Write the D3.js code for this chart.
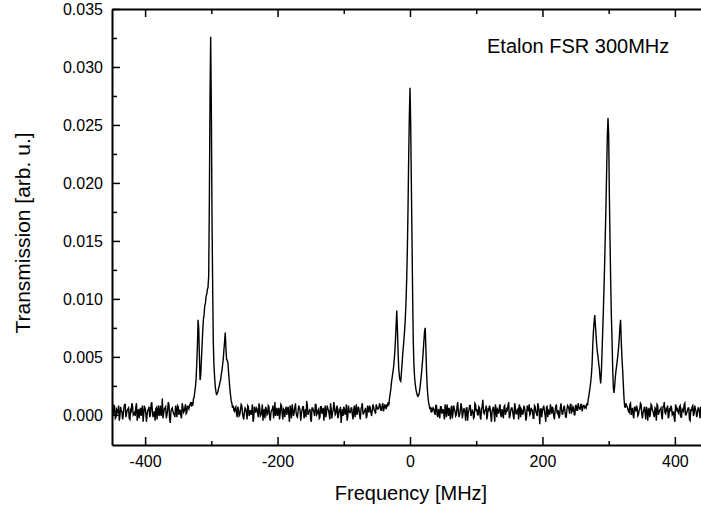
<!DOCTYPE html>
<html><head><meta charset="utf-8">
<script src="https://cdn.jsdelivr.net/npm/d3@7"></script>
<style>body{margin:0;background:#fff}svg{display:block}</style>
</head><body>
<svg id="chart" width="701" height="514"></svg>
<script>
// Transmission values are given in units of 1e-4 (arb. u.)
// Baseline noise, even-MHz samples (every 2 MHz from the listed start)
const baseStart = [-450, -264, 36, 328];
const base1 = [5, 0, 7, -2, 4, 8, -1, 3, -4, 6,
  9, 1, 5, -3, 4, 10, 0, 2, 7, -5,
  5, 3, -1, 8, 1, 6, -6, 4, 7, 0,
  11, -2, 3, 5, -4, 8, 2, -1, 14, 1,
  6, -3, 4, 9, -7, 5, 3, 0, 8, -2,
  7, 4, -1, 10, 2, 6, 1, 8, 5, 9];
const base2 = [6, 1, 7, -1, 4, 8, -2, 3, 5, -4,
  7, 2, 0, 9, -3, 4, 6, 1, 10, -1,
  3, -5, 5, 7, 0, 8, -2, 2, 4, -3,
  11, 3, -1, 6, 1, 8, -4, 4, 5, 0,
  7, -6, 3, 9, -1, 6, 2, -2, 8, 4,
  1, 7, -3, 5, 12, 0, 3, -4, 6, 4,
  -1, 9, 1, 5, -2, 7, 3, -5, 8, 2,
  5, 0, 10, -3, 4, 6, 1, 8, -1, 3,
  -7, 5, 7, 0, 9, -2, 4, 2, 6, -4,
  8, 3, 0, 7, -1, 5, 10, 1, 4, -3,
  8, 2, 6, -1, 9, 4, 1, 7, 5, 10,
  4, 8, 3, 9, 5];
const base3 = [5, 0, 8, -2, 3, 7, 1, 5, -4, 4,
  9, -1, 2, 6, -3, 8, 3, 0, 11, -2,
  4, 7, 1, 5, -5, 6, 2, 8, -1, 4,
  -3, 10, 3, 0, 7, -2, 5, 13, 1, 4,
  -4, 6, 8, -1, 3, 7, -6, 4, 5, 1,
  9, -2, 2, 7, 0, 5, 8, -3, 3, 6,
  -1, 10, 1, 4, -4, 7, 5, 0, 8, 2,
  -2, 6, 9, 1, 4, -3, 8, 3, -1, 7,
  -8, 5, 4, 8, 0, 6, -2, 3, 9, 1,
  5, -4, 7, 2, 4, -1, 10, 0, 6, 3,
  -2, 8, 5, 9, 2, 7, 0, 8, 4, 10,
  5, 9, 3, 8, 6];
const base4 = [7, 3, 9, 0, 6, -3, 5, 8, -1, 4,
  10, 1, 2, 7, -4, 5, 3, -2, 9, 4,
  0, 6, -5, 8, 2, 5, -1, 7, 11, 1,
  4, -3, 6, 8, 0, 3, -6, 7, 5, 1,
  8, -2, 4, 9, 0, 2, 6, -4, 5, 7,
  -1, 8, 3, 1, 6, -3, 4];
// Baseline noise, odd-MHz samples (every 2 MHz from the listed start)
const oddStart = [-449, -265, 35, 327];
const odd1 = [2, 8, -3, 5, 1, -5, 7, 3, 0, 9,
  -2, 4, 6, -4, 3, 8, 1, -1, 10, 2,
  -3, 6, 4, -6, 7, 2, 0, 5, -2, 9,
  3, 1, -5, 6, 4, -1, 8, 2, -3, 5,
  7, 0, 11, -4, 3, 6, 1, -2, 5, 8,
  0, 4, -3, 7, 3, 9, 2, 6, 8, 11];
const odd2 = [3, 7, -2, 5, 0, 9, 2, -4, 6, 1,
  8, -1, 4, 3, -6, 7, 2, 5, -2, 6,
  0, 9, 3, -3, 5, 1, 7, -5, 4, 8,
  2, -1, 6, 3, -4, 9, 1, 5, -2, 7,
  4, 0, 8, -3, 5, 2, 10, -1, 3, 6,
  -5, 4, 7, 1, -2, 8, 3, 5, -6, 6,
  2, 9, 0, 4, -3, 7, 1, 6, 3, -2,
  8, 4, -4, 5, 2, 11, 0, 6, -3, 4,
  7, 1, -1, 5, 3, -5, 8, 2, 6, 0,
  4, -2, 9, 3, 5, -4, 7, 1, 3, 6,
  -1, 5, 8, 2, 4, 7, 3, 9, 5, 6,
  8, 4, 10, 6, 7, 9];
const odd3 = [6, 2, 8, 0, 5, -3, 7, 3, 1, 9,
  -2, 4, 6, -4, 8, 2, 5, -1, 7, 3,
  0, 10, -3, 5, 2, 6, -5, 4, 8, 1,
  3, -2, 9, 5, 0, 6, -4, 7, 2, 4,
  8, -1, 3, 6, -6, 5, 1, 9, -2, 4,
  7, 0, 5, -3, 8, 2, 4, 11, -1, 6,
  3, -4, 7, 1, 5, 9, -2, 4, 2, 6,
  -5, 8, 3, 0, 6, 4, -3, 7, 1, 10,
  2, 5, -2, 6, 3, -6, 8, 4, 0, 5,
  7, -1, 3, 9, 1, -3, 6, 4, 2, 8,
  -2, 5, 7, 1, 9, 3, 6, 0, 8, 4,
  7, 5, 9, 6, 8, 7];
const odd4 = [8, 5, 2, 10, 4, -1, 7, 3, 6, 0,
  5, 9, -3, 4, 2, 7, -5, 6, 1, 8,
  3, -2, 5, 9, 0, 4, 6, -4, 7, 2,
  5, 8, -1, 3, 6, 1, -3, 9, 4, 2,
  7, -2, 5, 3, 10, 0, 4, 6, -5, 3,
  8, 1, 5, -2, 6, 3, 7];
const baseStep = 2;

// Peak regions, sampled every 1 MHz starting at the listed frequency
const peakStart = [-330, -34, 266];
const peakA = [7, 11, 8, 14, 15, 20, 24, 31, 44, 60,
  82, 74, 50, 30, 34, 47, 60, 72, 82, 86,
  94, 96, 102, 104, 108, 110, 120, 182, 272, 326,
  266, 172, 112, 62, 42, 32, 24, 20, 17, 19,
  20, 23, 25, 28, 30, 35, 38, 43, 48, 56,
  63, 71, 58, 48, 47, 45, 37, 30, 22, 17,
  12, 10, 6, 8, 4];
const peakB = [7, 11, 8, 14, 18, 22, 28, 32, 36, 40,
  46, 54, 64, 77, 90, 74, 54, 40, 33, 30,
  29, 36, 44, 52, 59, 66, 74, 84, 98, 117,
  142, 177, 222, 257, 282, 252, 202, 152, 102, 62,
  42, 32, 26, 22, 19, 17, 16, 17, 19, 23,
  28, 34, 40, 47, 55, 64, 72, 75, 57, 37,
  24, 16, 11, 8, 5, 7, 2, 6, 4];
const peakC = [6, 10, 8, 13, 16, 20, 24, 29, 35, 44,
  60, 72, 80, 86, 77, 68, 60, 54, 50, 44,
  40, 32, 27, 37, 54, 72, 90, 110, 132, 157,
  182, 212, 240, 256, 242, 192, 152, 117, 87, 67,
  42, 24, 19, 24, 32, 38, 42, 47, 52, 58,
  66, 76, 82, 64, 50, 40, 28, 16, 8, 6,
  10];
const peakStep = 1;

const xMajorTicks = [-400, -200, 0, 200, 400];
const xMinorTicks = [-300, -100, 100, 300];
const yMajorTicks = [0.000, 0.005, 0.010, 0.015, 0.020, 0.025, 0.030, 0.035];
const yMinorTicks = [0.0025, 0.0075, 0.0125, 0.0175, 0.0225, 0.0275, 0.0325];
const xTitle = "Frequency [MHz]";
const yTitle = "Transmission [arb. u.]";
const annotation = "Etalon FSR 300MHz";

// ---- build series ----
const points = [];
function addSeg(start, step, arr) {
  arr.forEach((v, i) => points.push({f: start + step * i, t: v * 1e-4}));
}
[base1, base2, base3, base4].forEach((a, k) => addSeg(baseStart[k], baseStep, a));
[odd1, odd2, odd3, odd4].forEach((a, k) => addSeg(oddStart[k], baseStep, a));
[peakA, peakB, peakC].forEach((a, k) => addSeg(peakStart[k], peakStep, a));
points.sort((a, b) => a.f - b.f);

// ---- layout ----
const L = 112, T = 9, B = 445;
const R = 112 + 895 * (298 / 450);
const svg = d3.select("#chart");
const font = "'Liberation Sans', Arial, Helvetica, sans-serif";

const x = d3.scaleLinear().domain([-450, 445]).range([L, R]);
const y = d3.scaleLinear().domain([-0.0026, 0.035]).range([B, T]);

svg.append("defs").append("clipPath").attr("id", "clip")
  .append("rect").attr("x", L).attr("y", T).attr("width", R - L).attr("height", B - T);

svg.append("path")
  .datum(points)
  .attr("clip-path", "url(#clip)")
  .attr("fill", "none")
  .attr("stroke", "#000")
  .attr("stroke-width", 1.4)
  .attr("d", d3.line().x(d => x(d.f)).y(d => y(d.t)));

function styleAxis(g, sw) {
  g.selectAll(".domain").attr("stroke-width", 2).attr("stroke", "#000");
  g.selectAll(".tick line").attr("stroke-width", sw).attr("stroke", "#000");
  g.selectAll("text").attr("font-family", font).attr("font-size", 16).attr("fill", "#000");
}
const plainFmt = d => String(d);

// bottom
const gb = svg.append("g").attr("transform", `translate(0,${B})`)
  .call(d3.axisBottom(x).tickValues(xMajorTicks).tickSizeInner(-8).tickSizeOuter(0).tickPadding(11).tickFormat(plainFmt));
styleAxis(gb, 1.5);
const gbm = svg.append("g").attr("transform", `translate(0,${B})`)
  .call(d3.axisBottom(x).tickValues(xMinorTicks).tickSizeInner(-4).tickSizeOuter(0).tickFormat(""));
styleAxis(gbm, 1.5); gbm.select(".domain").remove();

// top
const gt = svg.append("g").attr("transform", `translate(0,${T})`)
  .call(d3.axisTop(x).tickValues(xMajorTicks).tickSizeInner(-8).tickSizeOuter(0).tickFormat(""));
styleAxis(gt, 1.5);
const gtm = svg.append("g").attr("transform", `translate(0,${T})`)
  .call(d3.axisTop(x).tickValues(xMinorTicks).tickSizeInner(-5).tickSizeOuter(0).tickFormat(""));
styleAxis(gtm, 1.5); gtm.select(".domain").remove();

// left
const gl = svg.append("g").attr("transform", `translate(${L},0)`)
  .call(d3.axisLeft(y).tickValues(yMajorTicks).tickSizeInner(-8).tickSizeOuter(0).tickPadding(9).tickFormat(d3.format(".3f")));
styleAxis(gl, 1.5);
gl.selectAll("text").attr("dy", "0.36em");
const glm = svg.append("g").attr("transform", `translate(${L},0)`)
  .call(d3.axisLeft(y).tickValues(yMinorTicks).tickSizeInner(-5).tickSizeOuter(0).tickFormat(""));
styleAxis(glm, 1.5); glm.select(".domain").remove();

// right (frame edge)
svg.append("g").attr("transform", `translate(${R},0)`)
  .call(d3.axisRight(y).tickValues([]).tickSizeOuter(0))
  .select(".domain").attr("stroke-width", 2);

// titles
svg.append("text").attr("x", 411).attr("y", 500).attr("text-anchor", "middle")
  .attr("font-family", font).attr("font-size", 20).text(xTitle);
svg.append("text").attr("transform", "translate(30,233) rotate(-90)").attr("text-anchor", "middle")
  .attr("font-family", font).attr("font-size", 21).text(yTitle);
svg.append("text").attr("x", 487).attr("y", 53).attr("text-anchor", "start")
  .attr("font-family", font).attr("font-size", 20).text(annotation);
</script>
</body></html>
